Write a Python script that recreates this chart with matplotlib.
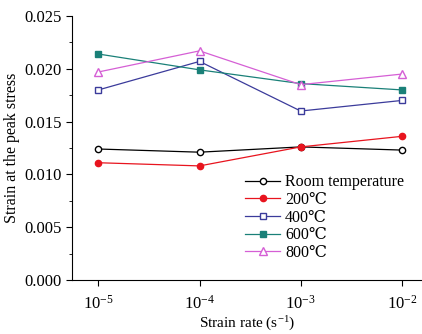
import numpy as np
import matplotlib
matplotlib.use("Agg")
import matplotlib.pyplot as plt

plt.rcParams['font.family'] = ['Liberation Serif', 'DejaVu Serif']
plt.rcParams['mathtext.fontset'] = 'custom'
plt.rcParams['mathtext.rm'] = 'Liberation Serif'
plt.rcParams['mathtext.it'] = 'Liberation Serif:italic'

rates = [1e-5, 1e-4, 1e-3, 1e-2]
room = [0.0124, 0.0121, 0.0126, 0.0123]
t200 = [0.0111, 0.0108, 0.0126, 0.0136]
t400 = [0.0180, 0.0207, 0.0160, 0.0170]
t600 = [0.0214, 0.0199, 0.0186, 0.0180]
t800 = [0.0197, 0.0217, 0.0185, 0.0195]
labels = ["Room temperature", "200\u2103", "400\u2103", "600\u2103", "800\u2103"]

fig = plt.figure(figsize=(4.22, 3.34), dpi=100)
ax = fig.add_axes([0.171, 0.162, 0.829, 0.79])

kw = dict(lw=0.9, ms=4.5)
ax.plot(rates, room, color="black", marker="o", mfc="white", label=labels[0], **kw)
ax.plot(rates, t200, color="#e8141e", marker="o", label=labels[1], **kw)
ax.plot(rates, t400, color="#3b3b9b", marker="s", mfc="white", label=labels[2], **kw)
ax.plot(rates, t600, color="#1a8078", marker="s", label=labels[3], **kw)
ax.plot(rates, t800, color="#d55fd5", marker="^", mfc="white", lw=0.9, ms=6, label=labels[4])

ax.set_xscale("log")
ax.set_xlim(10**-5.26, 10**-1.8)
ax.set_ylim(0, 0.025)
ax.set_xticks(rates)
ax.set_xticklabels([r"$10^{-5}$", r"$10^{-4}$", r"$10^{-3}$", r"$10^{-2}$"], fontsize=12)
ax.xaxis.set_minor_locator(matplotlib.ticker.NullLocator())
ax.set_yticks(np.arange(0, 0.0251, 0.005))
ax.set_yticklabels(["%.3f" % v for v in np.arange(0, 0.0251, 0.005)], fontsize=12)
ax.yaxis.set_minor_locator(matplotlib.ticker.MultipleLocator(0.0025))
ax.tick_params(direction="out", length=4, width=0.8)
ax.tick_params(axis="x", pad=7)
ax.tick_params(which="minor", length=2.5)
for s in ["top", "right"]:
    ax.spines[s].set_visible(False)

ax.set_ylabel("Strain at the peak stress", fontsize=11.5, labelpad=3)
ax.set_xlabel(r"Strain rate (s$^{-1}$)", fontsize=11, labelpad=1)

ax.legend(loc="upper left", bbox_to_anchor=(0.494, 0.40), frameon=False, fontsize=11.5,
          handlelength=2.2, labelspacing=0.1, handletextpad=0.3, borderpad=0,
          borderaxespad=0)

fig.savefig("out.png", dpi=100)
